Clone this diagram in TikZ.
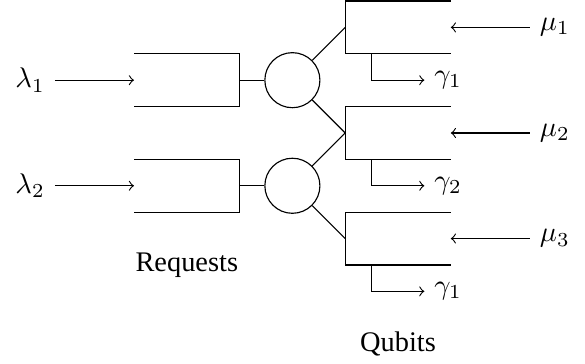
\documentclass[tikz,border=0pt]{standalone}
\usepackage[no-math]{fontspec}
\setmainfont{Liberation Serif}
\usepackage{xcolor}
\usetikzlibrary{positioning}

\begin{document}
\begin{tikzpicture}[x=1pt,y=1pt]
\definecolor{fillColor}{RGB}{255,255,255}
\path[use as bounding box,fill=fillColor,fill opacity=0.00] (0,0) rectangle (206.10,128.23);
\begin{scope}
\definecolor{drawColor}{RGB}{0,0,0}

\path[draw=drawColor,line width= 0.4pt,line join=miter] (47.21,109.28) --
	(84.41,109.28) -- (84.41, 90.68) -- (47.21, 90.68);

\path[draw=drawColor,line width= 0.4pt,line join=miter] (47.21, 72.08) --
	(84.41, 72.08) -- (84.41, 53.48) -- (47.21, 53.48);

\path[draw=drawColor,line width= 0.4pt,line join=miter] (158.81,127.88) --
	(121.61,127.88) -- (121.61,109.28) -- (158.81,109.28);

\path[draw=drawColor,line width= 0.4pt,line join=miter] (158.81, 90.68) --
	(121.61, 90.68) -- (121.61, 72.08) -- (158.81, 72.08);

\path[draw=drawColor,line width= 0.4pt,line join=miter] (158.81, 53.48) --
	(121.61, 53.48) -- (121.61, 34.88) -- (158.81, 34.88);
\end{scope}
\begin{scope}
\definecolor{drawColor}{RGB}{0,0,0}

\coordinate (q1in) at ( 47.21, 99.98);
\coordinate (q1out) at ( 84.41, 99.98);
\coordinate (q2in) at ( 47.21, 62.78);
\coordinate (q2out) at ( 84.41, 62.78);

\coordinate (b1mid) at (121.61,118.58);
\coordinate (b2mid) at (121.61, 81.38);
\coordinate (b3mid) at (121.61, 44.18);

\coordinate (b1in) at (158.81,118.58);
\coordinate (b2in) at (158.81, 81.38);
\coordinate (b3in) at (158.81, 44.18);

\coordinate (b1tap) at (130.91,109.28);
\coordinate (b2tap) at (130.91, 72.08);
\coordinate (b3tap) at (130.91, 34.88);

\node[draw=drawColor,circle,line width= 0.4pt,minimum size=19.40pt,inner sep=0pt] (srv1) at (103.01, 99.98) {};

\node[draw=drawColor,circle,line width= 0.4pt,minimum size=19.40pt,inner sep=0pt] (srv2) at (103.01, 62.78) {};

\node[text=drawColor,anchor=east] (lam1) at ( 19.31, 99.98) {$\lambda_1$};

\node[text=drawColor,anchor=east] (lam2) at ( 19.31, 62.78) {$\lambda_2$};

\node[text=drawColor,anchor=west] (mu1) at (186.71,118.58) {$\mu_1$};

\node[text=drawColor,anchor=west] (mu2) at (186.71, 81.38) {$\mu_2$};

\node[text=drawColor,anchor=west] (mu3) at (186.71, 44.18) {$\mu_3$};

\node[text=drawColor,anchor=west] (gam1) at (149.51, 99.98) {$\gamma_1$};

\node[text=drawColor,anchor=west] (gam2) at (149.51, 62.78) {$\gamma_2$};

\node[text=drawColor,anchor=west] (gam3) at (149.51, 25.58) {$\gamma_1$};

\node[text=drawColor] (requests) at ( 65.81, 34.88) {Requests};

\node[text=drawColor] (qubits) at (140.21,  6.98) {Qubits};

\path[draw=drawColor,line width= 0.4pt,->] (lam1) -- (q1in);

\path[draw=drawColor,line width= 0.4pt,->] (lam2) -- (q2in);

\path[draw=drawColor,line width= 0.4pt] (q1out) -- (srv1);

\path[draw=drawColor,line width= 0.4pt] (q2out) -- (srv2);

\path[draw=drawColor,line width= 0.4pt] (srv1) -- (b1mid);

\path[draw=drawColor,line width= 0.4pt] (srv1) -- (b2mid);

\path[draw=drawColor,line width= 0.4pt] (srv2) -- (b2mid);

\path[draw=drawColor,line width= 0.4pt] (srv2) -- (b3mid);

\path[draw=drawColor,line width= 0.4pt,->] (mu1) -- (b1in);

\path[draw=drawColor,line width= 0.4pt,->] (mu2) -- (b2in);

\path[draw=drawColor,line width= 0.4pt,->] (mu3) -- (b3in);

\path[draw=drawColor,line width= 0.4pt,->] (b1tap) |- (gam1);

\path[draw=drawColor,line width= 0.4pt,->] (b2tap) |- (gam2);

\path[draw=drawColor,line width= 0.4pt,->] (b3tap) |- (gam3);
\end{scope}
\end{tikzpicture}
\end{document}
